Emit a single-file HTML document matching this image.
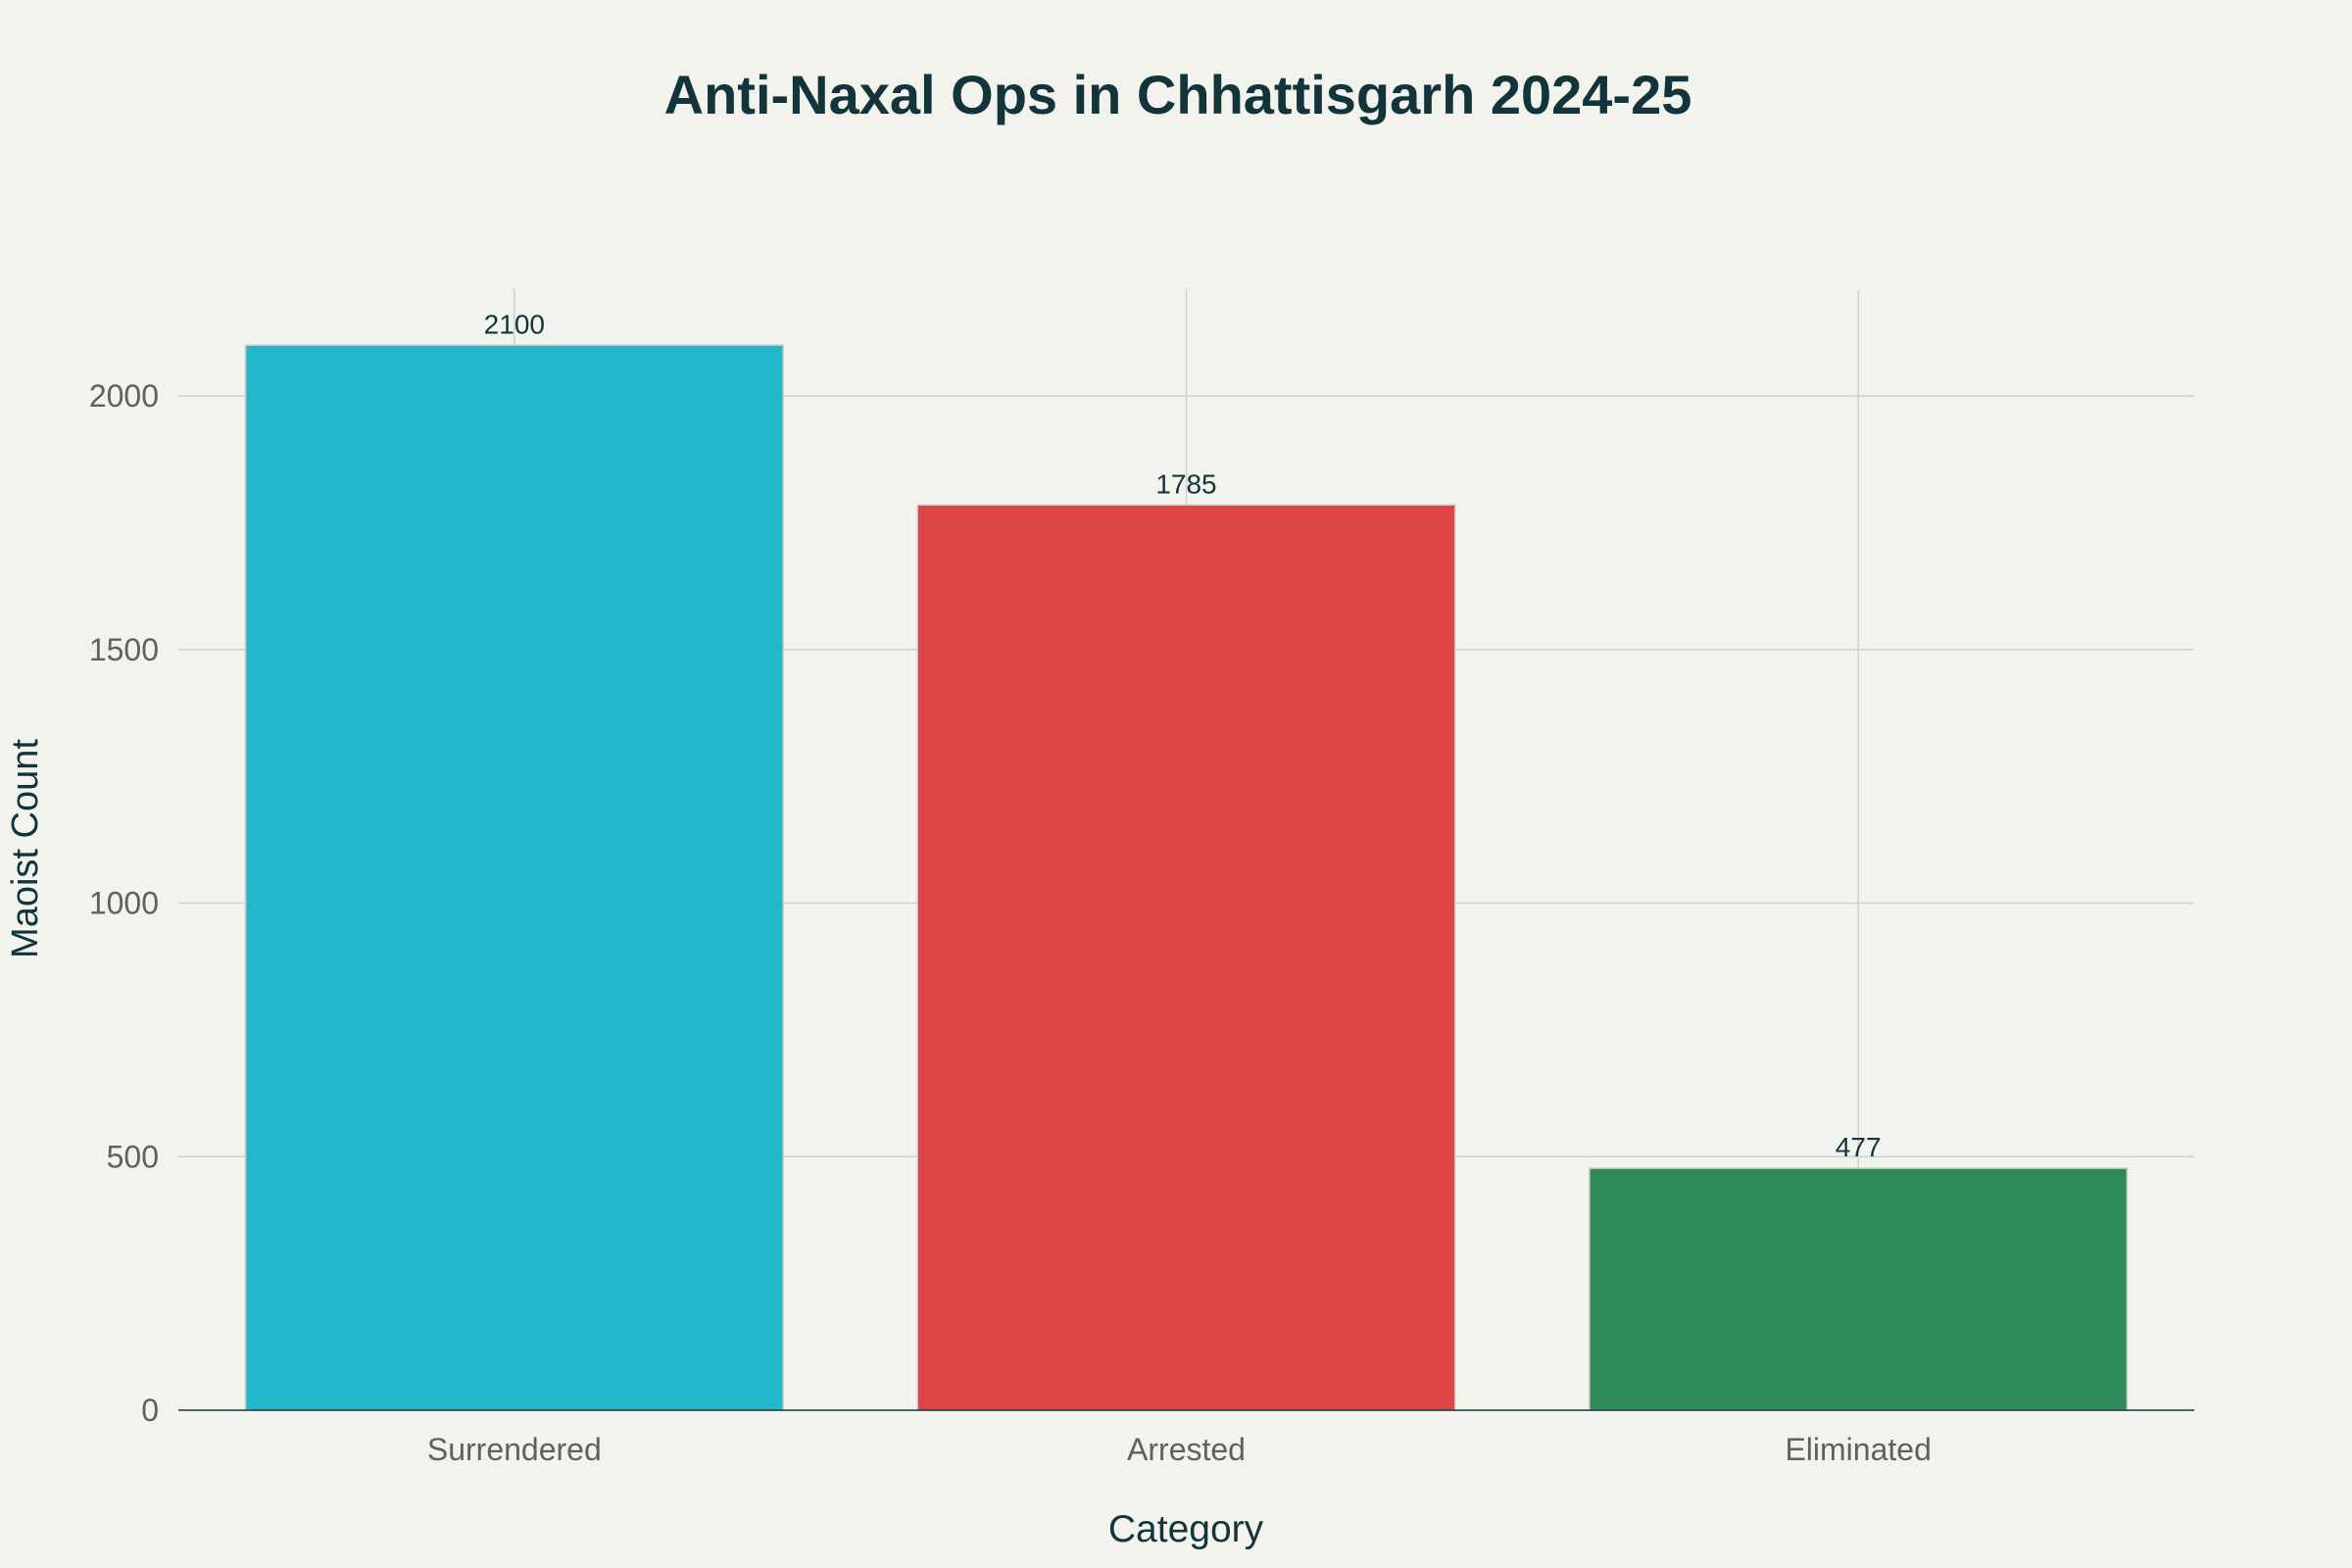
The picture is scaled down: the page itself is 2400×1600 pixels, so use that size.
<!DOCTYPE html>
<html><head><meta charset="utf-8"><style>
html,body{margin:0;padding:0;background:#f3f3ee;}
svg{display:block;font-family:"Liberation Sans",sans-serif;}
</style></head><body>
<svg id="chart" width="2400" height="1600" viewBox="0 0 2400 1600" xmlns="http://www.w3.org/2000/svg">
<rect width="2400" height="1600" fill="#f3f3ee"/>
<text x="1202" y="116" text-anchor="middle" font-size="56" font-weight="bold" fill="#13343b">Anti-Naxal Ops in Chhattisgarh 2024-25</text>
<g id="grid"></g>
<g id="bars"></g>
<g id="axes"></g>
<text x="1210" y="1573" text-anchor="middle" font-size="39" fill="#13343b">Category</text>
<text transform="translate(38,866) rotate(-90)" text-anchor="middle" font-size="38" fill="#13343b">Maoist Count</text>
</svg>
<script>
const categories = ["Surrendered","Arrested","Eliminated"];
const values = [2100,1785,477];
const colors = ["#21b8cc","#db4545","#2e8b57"];
const yTicks = [0,500,1000,1500,2000];
const yTickLabels = ["0","500","1000","1500","2000"];

const NS="http://www.w3.org/2000/svg";
const L=182,R=2239,B=1439,T=295;
const y=v=>B-v*(1035/2000);
const step=(R-L)/categories.length;
const xc=i=>L+step*(i+0.5);
const bw=step*0.8;
function mk(tag,attrs,parent){const e=document.createElementNS(NS,tag);for(const k in attrs)e.setAttribute(k,attrs[k]);document.getElementById(parent).appendChild(e);return e;}
yTicks.forEach((t,i)=>{
  if(t>0){const g=mk('line',{x1:L,x2:R,y1:y(t),y2:y(t),stroke:'#d0d0cc','stroke-width':1.5},'grid');
  
  }
  const lb=mk('text',{x:162,y:y(t)+11,'text-anchor':'end','font-size':32,fill:'#5f6161'},'axes');
  lb.textContent=yTickLabels[i];
  
  
});
categories.forEach((c,i)=>{
  const g=mk('line',{x1:xc(i),x2:xc(i),y1:T,y2:B,stroke:'#d0d0cc','stroke-width':1.5},'grid');
  
  
  const r=mk('rect',{x:xc(i)-bw/2,y:y(values[i]),width:bw,height:B-y(values[i]),fill:colors[i],stroke:'#c8c8c4','stroke-width':1.5},'bars');
  
  
  const v=mk('text',{x:xc(i),y:y(values[i])-12,'text-anchor':'middle','font-size':28,fill:'#13343b'},'bars');
  v.textContent=values[i];
  
  
  const lb=mk('text',{x:xc(i),y:1490,'text-anchor':'middle','font-size':32,fill:'#5f6161'},'axes');
  lb.textContent=c;
  
  
});
const ax=mk('line',{x1:L,x2:R,y1:B,y2:B,stroke:'#13343b','stroke-width':1.5},'axes');


</script>
</body></html>
